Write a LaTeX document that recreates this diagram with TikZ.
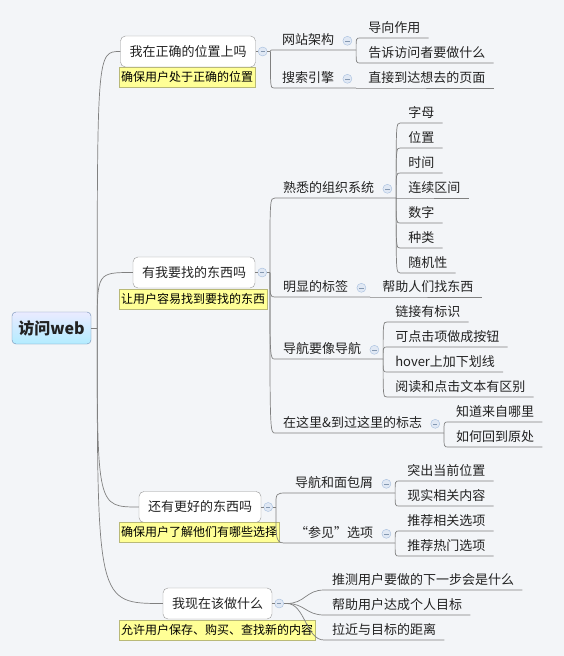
\documentclass[tikz,border=0pt]{standalone}
\usepackage{fontspec}
\setmainfont{Noto Sans CJK SC}
\usetikzlibrary{positioning}

\definecolor{bgcol}{RGB}{243,245,248}
\definecolor{linecol}{RGB}{128,128,128}
\definecolor{boxcol}{RGB}{150,150,150}
\definecolor{notefill}{RGB}{255,255,150}
\definecolor{notecol}{RGB}{185,185,120}
\definecolor{foldfill}{RGB}{224,232,244}
\definecolor{foldline}{RGB}{165,190,222}
\definecolor{rootline}{RGB}{110,140,180}
\definecolor{inkcol}{RGB}{34,34,34}

\tikzset{
  link/.style={draw=linecol, line width=0.7pt},
  root/.style={draw=rootline, rounded corners=4pt, top color=blue!8!white, bottom color=blue!25!cyan!30!white,
    minimum width=79pt, minimum height=32pt, font=\fontsize{16}{18}\selectfont\bfseries, text=inkcol},
  topic/.style={draw=boxcol, fill=white, rounded corners=5pt, minimum height=31pt, inner xsep=9pt,
    font=\fontsize{13}{15}\selectfont, text=inkcol},
  note/.style={draw=notecol, fill=notefill, anchor=north west, inner xsep=2pt, inner ysep=0pt,
    minimum height=20pt, font=\fontsize{12}{14}\selectfont},
  sub/.style={anchor=south west, inner xsep=8pt, inner ysep=3pt, text height=10pt, text depth=2pt,
    font=\fontsize{13}{15}\selectfont, text=inkcol},
  fold/.style={circle, draw=foldline, fill=foldfill, minimum size=9pt, inner sep=0pt,
    path picture={\draw[foldline!80!black, line width=0.6pt]
      ([xshift=-2.2pt]path picture bounding box.center) -- ([xshift=2.2pt]path picture bounding box.center);}},
}

\begin{document}
\begin{tikzpicture}[x=1pt,y=-1pt]
  \fill[bgcol] (0,0) rectangle (564,656);
  \useasboundingbox (0,0) rectangle (564,656);

  % centre
  \node[root] (root) at (51.5,328) {访问web};
  \path (root.east) ++(6,0) coordinate (hub);
  \draw[link] (root.east) -- (hub);

  % main topics
  \node[topic] (t1) at (188,51.5) {我在正确的位置上吗};
  \node[topic] (t2) at (194,272.5) {有我要找的东西吗};
  \node[topic] (t3) at (200,507) {还有更好的东西吗};
  \node[topic] (t4) at (217.5,603.5) {我现在该做什么};
  \node[note] (n1) at (119,67) {确保用户处于正确的位置};
  \node[note] (n2) at (119,289) {让用户容易找到要找的东西};
  \node[note] (n3) at (119,522) {确保用户了解他们有哪些选择};
  \node[note] (n4) at (119,620) {允许用户保存、购买、查找新的内容};

  \foreach \k in {1,2,3,4}{
    \draw[link] (hub) .. controls (hub |- t\k.west) .. (t\k.west);
    \node[fold] (f\k) at ([xshift=7pt]t\k.east) {};
    \path (f\k.east) ++(3,0) coordinate (b\k);
    \draw[link] (t\k.east) -- (f\k.west) (f\k.east) -- (b\k);
  }

  % branch 1
  \node[sub] (s11) at (274,50) {网站架构};
  \node[sub] (s12) at (274,88) {搜索引擎};
  \foreach \s in {11,12}{
    \node[fold] (f\s) at ([xshift=5pt]s\s.east) {};
    \path (f\s.east |- s\s.south) ++(4,0) coordinate (b\s);
    \draw[link] (b1) .. controls (b1 |- s\s.south west) .. (s\s.south west) -- (b\s);
  }
  \foreach \txt/\y in {导向作用/38,告诉访问者要做什么/63}{
    \node[sub,xshift=4pt] (l11) at (b11 |- 0,\y) {\txt};
    \draw[link] (b11) .. controls (b11 |- l11.south west) .. (l11.south west) -- (l11.south east);
  }
  \node[sub,xshift=4pt] (l12) at (b12 |- 0,88) {直接到达想去的页面};
  \draw[link] (b12) -- (l12.south west) -- (l12.south east);

  % branch 2
  \node[sub] (s21) at (275,198) {熟悉的组织系统};
  \node[sub] (s22) at (275,297) {明显的标签};
  \node[sub] (s23) at (275,359) {导航要像导航};
  \node[sub] (s24) at (275,433) {在这里\&到过这里的标志};
  \foreach \s in {21,22,23,24}{
    \node[fold] (f\s) at ([xshift=5pt]s\s.east) {};
    \path (f\s.east |- s\s.south) ++(4,0) coordinate (b\s);
    \draw[link] (b2) .. controls (b2 |- s\s.south west) .. (s\s.south west) -- (b\s);
  }
  \foreach \txt [count=\i] in {字母,位置,时间,连续区间,数字,种类,随机性}{
    \node[sub,xshift=4pt] (l21) at (b21 |- 0,{98+25*\i}) {\txt};
    \draw[link] (b21) .. controls (b21 |- l21.south west) .. (l21.south west) -- (l21.south east);
  }
  \node[sub,xshift=4pt] (l22) at (b22 |- 0,297) {帮助人们找东西};
  \draw[link] (b22) -- (l22.south west) -- (l22.south east);
  \foreach \txt/\y in {链接有标识/322,可点击项做成按钮/347,hover上加下划线/372,阅读和点击文本有区别/397}{
    \node[sub,xshift=4pt] (l23) at (b23 |- 0,\y) {\txt};
    \draw[link] (b23) .. controls (b23 |- l23.south west) .. (l23.south west) -- (l23.south east);
  }
  \foreach \txt/\y in {知道来自哪里/422,如何回到原处/447}{
    \node[sub,xshift=4pt] (l24) at (b24 |- 0,\y) {\txt};
    \draw[link] (b24) .. controls (b24 |- l24.south west) .. (l24.south west) -- (l24.south east);
  }

  % branch 3
  \node[sub] (s31) at (287,493) {导航和面包屑};
  \node[sub] (s32) at (287,543) {“参见”选项};
  \foreach \s in {31,32}{
    \node[fold] (f\s) at ([xshift=5pt]s\s.east) {};
    \path (f\s.east |- s\s.south) ++(4,0) coordinate (b\s);
    \draw[link] (b3) .. controls (b3 |- s\s.south west) .. (s\s.south west) -- (b\s);
  }
  \foreach \txt/\y in {突出当前位置/481,现实相关内容/506}{
    \node[sub,xshift=4pt] (l31) at (b31 |- 0,\y) {\txt};
    \draw[link] (b31) .. controls (b31 |- l31.south west) .. (l31.south west) -- (l31.south east);
  }
  \foreach \txt/\y in {推荐相关选项/531,推荐热门选项/556}{
    \node[sub,xshift=4pt] (l32) at (b32 |- 0,\y) {\txt};
    \draw[link] (b32) .. controls (b32 |- l32.south west) .. (l32.south west) -- (l32.south east);
  }

  % branch 4
  \foreach \txt/\y in {推测用户要做的下一步会是什么/590,帮助用户达成个人目标/615,拉近与目标的距离/640}{
    \node[sub] (l4) at (324,\y) {\txt};
    \draw[link] (b4) .. controls +(18,0) and +(-18,0) .. (l4.south west) -- (l4.south east);
  }
\end{tikzpicture}
\end{document}
